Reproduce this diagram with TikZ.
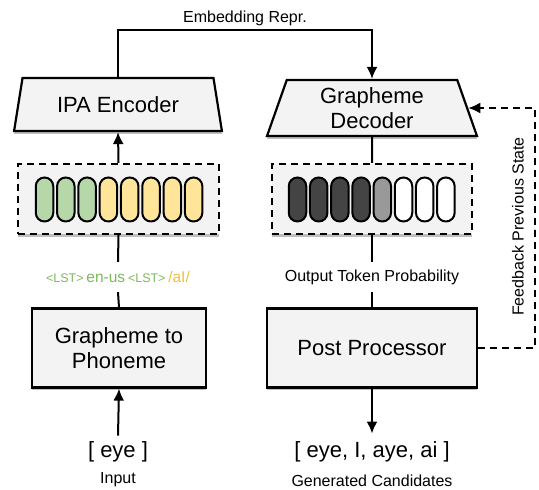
\documentclass[tikz,border=0pt]{standalone}
\usepackage{fontspec}
\setmainfont{Liberation Sans}
\usepackage{tikz}
\usetikzlibrary{arrows.meta,shapes.geometric,shadows}

\definecolor{boxgray}{HTML}{F3F3F3}
\definecolor{pillgreen}{HTML}{B6D7A8}
\definecolor{pillyellow}{HTML}{FFE599}
\definecolor{txtgreen}{HTML}{7DB85E}
\definecolor{txtyellow}{HTML}{F1C232}
\definecolor{pilldark}{HTML}{444444}
\definecolor{pillmid}{HTML}{999999}

\tikzset{
	softshadow/.style={drop shadow={shadow xshift=0pt,shadow yshift=-3pt,opacity=0.25,fill=black}},
	stage/.style={rectangle,draw,line width=2.2pt,fill=boxgray,softshadow,align=center,
		font=\fontsize{22}{25}\selectfont,minimum width=#1,minimum height=79pt},
	coder/.style={trapezium,trapezium stretches=true,draw,line width=2.2pt,fill=boxgray,softshadow,
		align=center,font=\fontsize{22}{25}\selectfont,minimum width=#1},
	seqbox/.style={rectangle,draw,dashed,dash pattern=on 7pt off 5pt,line width=2.2pt,fill=boxgray,
		softshadow,minimum width=201pt,minimum height=70pt},
	pill/.style={rectangle,draw,line width=2pt,rounded corners=8.7pt,minimum width=17.5pt,
		minimum height=44pt,inner sep=0pt,fill=#1},
	wire/.style={line width=2pt},
	arr/.style={line width=2pt,-{Latex[length=12pt,width=11pt]}},
	small/.style={font=\fontsize{16}{18}\selectfont},
	big/.style={font=\fontsize{22}{25}\selectfont}
}

\begin{document}
\begin{tikzpicture}[x=1pt,y=1pt]
		\useasboundingbox (0,0) rectangle (539,490);
%		\draw[help lines,step=50] (0,0) grid (539,490);
		\path (245,460) coordinate (emb);
		\path (535,260) coordinate (fb);

		\path (118,385.5) node(enc) [coder=208pt,trapezium angle=76,minimum height=53pt] {IPA Encoder};
		\path (372,382) node(dec) [coder=210pt,trapezium angle=75,minimum height=56pt] {Grapheme\\Decoder};
		\path (118.5,291) node(lseq) [seqbox] {};
		\path (372,291) node(rseq) [seqbox,minimum width=200pt] {};
		\path (119,142) node(g2p) [stage=174pt] {Grapheme to\\Phoneme};
		\path (372,142) node(post) [stage=210pt] {Post Processor};

		% token strips
		\foreach \c [count=\i] in {pillgreen,pillgreen,pillgreen,pillyellow,pillyellow,pillyellow,pillyellow,pillyellow}
			\path (44.5+21.3*\i-21.3,290.5) node(lp\i) [pill=\c] {};
		\foreach \c [count=\i] in {pilldark,pilldark,pilldark,pilldark,pillmid,white,white,white}
			\path (297.5+21.2*\i-21.2,290.5) node(rp\i) [pill=\c] {};

		\path (emb) node(embl) [above=1pt,small] {Embedding Repr.};
		\path (118,213) node(lst) [minimum height=30pt,inner sep=0pt] {{\fontsize{12.5}{14}\selectfont\color{txtgreen}<LST>} {\fontsize{15.5}{18}\selectfont\color{txtgreen}en-us} {\fontsize{12.5}{14}\selectfont\color{txtgreen}<LST>} {\fontsize{15.5}{18}\selectfont\color{txtyellow}/aI/}};
		\path (372,213) node(prob) [small,minimum height=30pt,inner sep=0pt] {Output Token Probability};
		\path (118,38) node(inp) [big,inner ysep=6pt] {[ eye ]};
		\path (118,10) node(inpl) [small] {Input};
		\path (372,38) node(out) [big,inner ysep=8pt] {[ eye, I, aye, ai ]};
		\path (372,9) node(outl) [small] {Generated Candidates};
		\path (518,263.5) node(fbl) [small,rotate=90] {Feedback Previous State};

		\draw[arr] (enc.north) |- (emb) -| (dec.north);
		\draw[arr] (lseq.north) -- (enc.south);
		\draw[wire] (g2p.north) -- (lst.south);
		\draw[wire] (lst.north) -- (lseq.south);
		\draw[arr] (inp.north) -- (g2p.south);
		\draw[wire] (dec.south) -- (rseq.north);
		\draw[wire] (rseq.south) -- (prob.north);
		\draw[wire] (prob.south) -- (post.north);
		\draw[arr] (post.south) -- (out.north);
		\draw[arr,dashed,dash pattern=on 7pt off 5pt] (post.east) -| (fb) |- (dec.east);
	\end{tikzpicture}
\end{document}
